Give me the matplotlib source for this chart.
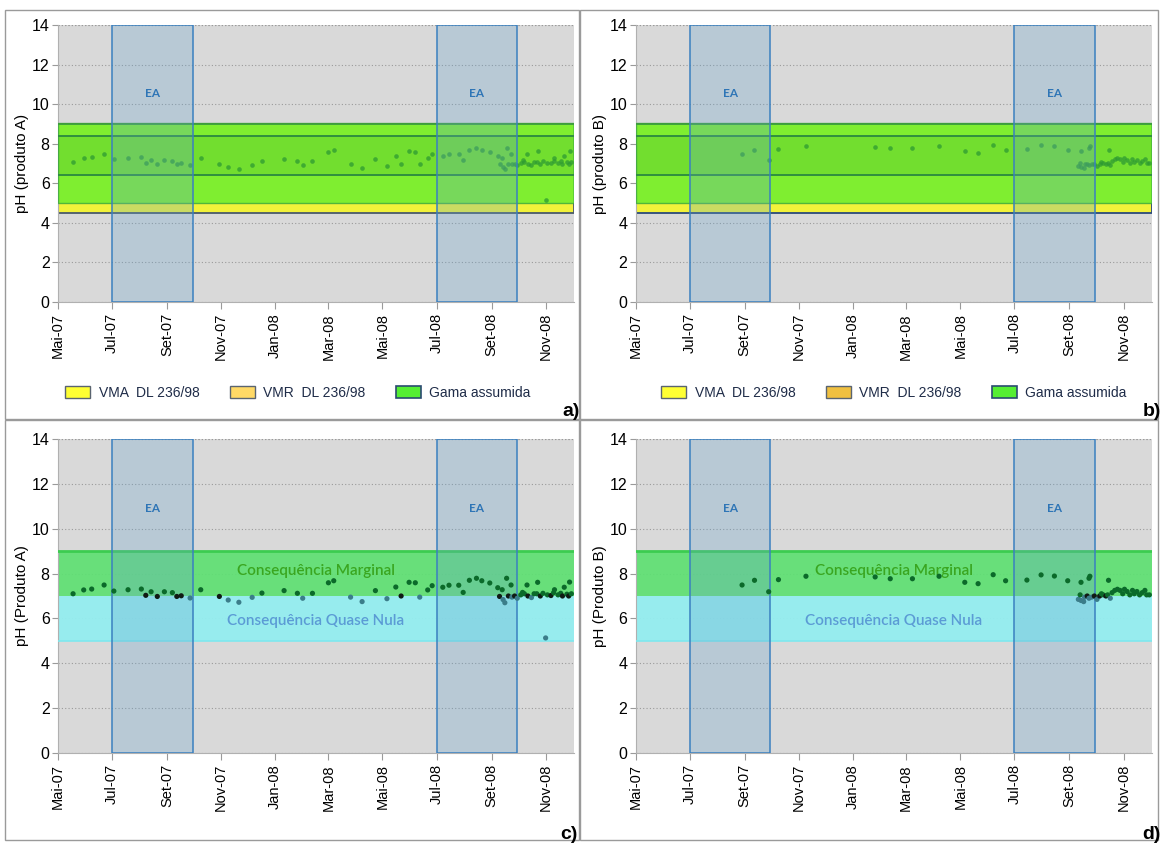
import matplotlib
matplotlib.use('Agg')
import matplotlib.pyplot as plt
import matplotlib.dates as mdates
from matplotlib.patches import Rectangle, Patch
import numpy as np
import datetime as dt

# ---------------- data ----------------
tick_dates = ['2007-05-01', '2007-07-01', '2007-09-01', '2007-11-01', '2008-01-01',
              '2008-03-01', '2008-05-01', '2008-07-01', '2008-09-01', '2008-11-01']
tick_labels = ['Mai-07', 'Jul-07', 'Set-07', 'Nov-07', 'Jan-08',
               'Mar-08', 'Mai-08', 'Jul-08', 'Set-08', 'Nov-08']
x_range = ['2007-05-01', '2008-12-03']
ea_periods = [('2007-07-01', '2007-09-30'), ('2008-07-01', '2008-09-30')]

dates_A = ['2007-05-18', '2007-05-30', '2007-06-08', '2007-06-22', '2007-07-03', '2007-07-19',
           '2007-08-03', '2007-08-08', '2007-08-14', '2007-08-21', '2007-08-29', '2007-09-07',
           '2007-09-12', '2007-09-17', '2007-09-27', '2007-10-09', '2007-10-30', '2007-11-09',
           '2007-11-21', '2007-12-06', '2007-12-17', '2008-01-11', '2008-01-26', '2008-02-01',
           '2008-02-12', '2008-03-01', '2008-03-07', '2008-03-26', '2008-04-08', '2008-04-23',
           '2008-05-06', '2008-05-16', '2008-05-22', '2008-05-31', '2008-06-07', '2008-06-12',
           '2008-06-21', '2008-06-26', '2008-07-08', '2008-07-15', '2008-07-26', '2008-07-31',
           '2008-08-07', '2008-08-15', '2008-08-21', '2008-08-30', '2008-09-08', '2008-09-10',
           '2008-09-13', '2008-09-14', '2008-09-16', '2008-09-18', '2008-09-23',
           '2008-09-20', '2008-09-24', '2008-09-27', '2008-09-30', '2008-10-04', '2008-10-06',
           '2008-10-08', '2008-10-11', '2008-10-12', '2008-10-16', '2008-10-19', '2008-10-22',
           '2008-10-23', '2008-10-26', '2008-10-29', '2008-11-01', '2008-11-03', '2008-11-07',
           '2008-11-10', '2008-11-11', '2008-11-15', '2008-11-18', '2008-11-20', '2008-11-22',
           '2008-11-25', '2008-11-27', '2008-11-28', '2008-11-30']
ph_A = [7.10, 7.27, 7.31, 7.49, 7.22, 7.28,
        7.31, 7.03, 7.19, 6.98, 7.19, 7.15,
        6.98, 7.01, 6.91, 7.28, 6.98, 6.82,
        6.72, 6.94, 7.13, 7.24, 7.12, 6.90,
        7.12, 7.59, 7.68, 6.95, 6.75, 7.24,
        6.88, 7.40, 7.00, 7.61, 7.59, 6.95,
        7.27, 7.46, 7.39, 7.48, 7.48, 7.16,
        7.70, 7.79, 7.68, 7.58, 7.37, 6.98,
        7.28, 6.84, 6.70, 7.79, 7.49,
        7.00, 6.95, 7.00, 6.90, 7.05, 7.16,
        7.10, 7.49, 7.00, 6.93, 7.10, 7.10,
        7.61, 7.00, 7.12, 5.13, 7.05, 7.02,
        7.15, 7.28, 7.05, 7.12, 7.00, 7.39,
        7.08, 7.00, 7.62, 7.10]

dates_B = ['2007-08-29', '2007-09-12', '2007-09-28', '2007-10-09', '2007-11-09', '2008-01-26',
           '2008-02-12', '2008-03-08', '2008-04-07', '2008-05-06', '2008-05-21', '2008-06-07',
           '2008-06-21', '2008-07-15', '2008-07-31', '2008-08-15', '2008-08-30', '2008-09-14',
           '2008-09-23', '2008-09-24', '2008-10-15',
           '2008-09-11', '2008-09-13', '2008-09-14', '2008-09-17', '2008-09-18', '2008-09-21',
           '2008-09-23', '2008-09-26', '2008-09-29', '2008-10-02', '2008-10-05', '2008-10-07',
           '2008-10-09', '2008-10-12', '2008-10-14', '2008-10-17', '2008-10-19', '2008-10-22',
           '2008-10-25', '2008-10-28', '2008-10-31', '2008-11-02', '2008-11-05', '2008-11-08',
           '2008-11-11', '2008-11-13', '2008-11-16', '2008-11-19', '2008-11-22', '2008-11-25',
           '2008-11-27', '2008-11-30']
ph_B = [7.49, 7.70, 7.19, 7.73, 7.88, 7.85,
        7.77, 7.77, 7.88, 7.61, 7.55, 7.95,
        7.68, 7.71, 7.94, 7.89, 7.68, 7.61,
        7.79, 7.88, 7.70,
        6.85, 7.05, 6.80, 6.75, 6.95, 7.00,
        6.90, 6.95, 7.00, 6.85, 7.00, 7.10,
        7.05, 7.00, 7.05, 6.90, 7.15, 7.25,
        7.30, 7.25, 7.10, 7.30, 7.20, 7.05,
        7.25, 7.10, 7.20, 7.05, 7.15, 7.25,
        7.05, 7.05]

vma_range = (4.5, 9.0)
vmr_range = (6.4, 8.4)
gama_range = (5.0, 9.05)
marginal_range = (7.0, 9.0)
quase_nula_range = (5.0, 7.0)

# ---------------- helpers ----------------
def to_dates(lst):
    return [dt.datetime.strptime(s, '%Y-%m-%d') for s in lst]

W, H = 1161, 843
fig = plt.figure(figsize=(W / 100, H / 100), dpi=100)
fig.patch.set_facecolor('white')
plt.rcParams['font.family'] = ['Liberation Sans', 'DejaVu Sans']

def fx(px):
    return px / W

def fy(py):
    return 1 - py / H

# panel borders
for (x0, y0, x1, y1) in [(5, 10, 579, 419), (580, 10, 1158, 419),
                         (5, 420, 579, 840), (580, 420, 1158, 840)]:
    fig.add_artist(Rectangle((fx(x0), fy(y1)), fx(x1 - x0), (y1 - y0) / H,
                             transform=fig.transFigure, fill=False,
                             edgecolor='#9a9a9a', lw=1.0))

def base_axes(left_px, right_px, top_px, bottom_px, ylabel):
    ax = fig.add_axes([fx(left_px), fy(bottom_px), fx(right_px - left_px),
                       (bottom_px - top_px) / H])
    ax.set_facecolor('#d9d9d9')
    ax.set_ylim(0, 14)
    ax.set_yticks(np.arange(0, 15, 2))
    ax.set_xlim(to_dates(x_range))
    ax.set_xticks(to_dates(tick_dates))
    ax.set_xticklabels(tick_labels, rotation=90, fontsize=10.5)
    ax.tick_params(axis='y', labelsize=11.5, length=4, color='#9a9a9a', pad=2)
    ax.tick_params(axis='x', length=5, color='#9a9a9a', pad=3)
    for s in ['top', 'right']:
        ax.spines[s].set_visible(False)
    for s in ['left', 'bottom']:
        ax.spines[s].set_color('#b0b0b0')
    ax.set_axisbelow(True)
    ax.yaxis.grid(True, linestyle=(0, (1, 2)), color='#9a9a9a', lw=0.8, zorder=0)
    ax.axhline(14, linestyle=(0, (1, 2)), color='#9a9a9a', lw=0.8, zorder=0.5)
    ax.set_ylabel(ylabel, fontsize=11, labelpad=2)
    return ax

def add_ea(ax, ytext):
    for (s, e) in ea_periods:
        d0, d1 = to_dates([s, e])
        x0 = mdates.date2num(d0)
        x1 = mdates.date2num(d1)
        ax.add_patch(Rectangle((x0, 0), x1 - x0, 14, facecolor='#65a1cd', alpha=0.28,
                               edgecolor='none', zorder=6))
        ax.add_patch(Rectangle((x0, 0), x1 - x0, 14, fill=False,
                               edgecolor='#3a80c0', lw=1.1, zorder=7))
        ax.text((x0 + x1) / 2, ytext, 'EA', ha='center', va='center', color='#2e75b6',
                fontsize=8.5, fontweight='bold', family=['Lato', 'DejaVu Sans'], zorder=8)

def point_colors(vals):
    cols = []
    for v in vals:
        if v > 7.03:
            cols.append('#0b6a2a')
        elif v >= 6.97:
            cols.append('#101a14')
        else:
            cols.append('#3b7d8a')
    return cols

# ---------------- panels a / b ----------------
def top_panel(left_px, right_px, dates, vals, ylabel, edge_band, vmr_col, leg_cx, label, lab_x):
    ax = base_axes(left_px, right_px, 25, 302, ylabel)
    ax.axhspan(*vma_range, facecolor='#f2f23a', edgecolor=edge_band, lw=1.3, zorder=2)
    ax.axhspan(*gama_range, facecolor='#66ee2e', alpha=0.82, edgecolor='#3caa3c', lw=1.0, zorder=3)
    ax.axhspan(*vmr_range, facecolor='#2f8f2f', alpha=0.16, edgecolor='none', zorder=4)
    ax.axhline(vmr_range[0], color='#2f8f3f', lw=1.4, zorder=4)
    ax.axhline(vmr_range[1], color='#2f8f3f', lw=1.4, zorder=4)
    ax.axhline(vma_range[1], color='#3c9c3c', lw=1.2, zorder=4)
    ax.scatter(to_dates(dates), vals, s=11, color='#2d9a32', alpha=0.75, zorder=4.5,
               linewidths=0)
    add_ea(ax, 10.55)
    handles = [Patch(facecolor='#ffff33', edgecolor='#5a6470', lw=1.0),
               Patch(facecolor=vmr_col, edgecolor='#5a6470', lw=1.0),
               Patch(facecolor='#55ee33', edgecolor='#2a4a70', lw=1.2)]
    labels = ['VMA  DL 236/98', 'VMR  DL 236/98', 'Gama assumida']
    leg = fig.legend(handles, labels, loc='center', bbox_to_anchor=(fx(leg_cx), fy(393)),
                     ncol=3, frameon=False, fontsize=10, handlelength=1.8, handleheight=1.0,
                     columnspacing=2.2, handletextpad=0.6)
    for t in leg.get_texts():
        t.set_color('#1f2c48')
    fig.text(fx(lab_x), fy(416), label, ha='right', va='baseline', fontsize=14,
             fontweight='bold', color='black')
    return ax

top_panel(58, 574, dates_A, ph_A, 'pH (produto A)', '#4a5a6a', '#ffd966', 298, 'a)', 580)
top_panel(635.6, 1152, dates_B, ph_B, 'pH (produto B)', '#2a4a7a', '#f0c040', 894, 'b)', 1161)

# ---------------- panels c / d ----------------
def bottom_panel(left_px, right_px, dates, vals, ylabel, label, lab_x):
    ax = base_axes(left_px, right_px, 439, 753, ylabel)
    ax.axhspan(*marginal_range, facecolor='#5ee072', alpha=0.92, edgecolor='none', zorder=2)
    ax.axhline(marginal_range[1], color='#3ccc50', lw=2.0, zorder=3)
    ax.axhspan(*quase_nula_range, facecolor='#94eef0', alpha=0.95, edgecolor='none', zorder=2)
    ax.axhline(quase_nula_range[0], color='#7ee8ee', lw=1.2, zorder=3)
    add_ea(ax, 10.9)
    xc = ax.get_xlim()
    xm = (xc[0] + xc[1]) / 2
    ax.text(xm, 8.12, 'Consequência Marginal', ha='center', va='center', color='#3aa620',
            fontsize=11, fontweight='semibold', family=['Lato', 'DejaVu Sans'], zorder=9)
    ax.text(xm, 5.87, 'Consequência Quase Nula', ha='center', va='center', color='#5b9bd5',
            fontsize=11, fontweight='semibold', family=['Lato', 'DejaVu Sans'], zorder=9)
    ax.scatter(to_dates(dates), vals, s=14, c=point_colors(vals), zorder=10, linewidths=0)
    fig.text(fx(lab_x), fy(839), label, ha='right', va='baseline', fontsize=14,
             fontweight='bold', color='black')
    return ax

bottom_panel(58, 574, dates_A, ph_A, 'pH (Produto A)', 'c)', 578)
bottom_panel(635.6, 1152, dates_B, ph_B, 'pH (Produto B)', 'd)', 1161)

fig.savefig('out.png', dpi=100)
